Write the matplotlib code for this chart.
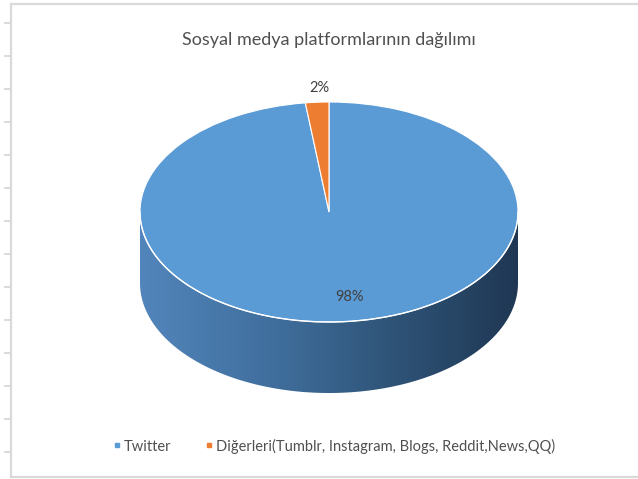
import numpy as np
import matplotlib
matplotlib.use("Agg")
import matplotlib.pyplot as plt
from matplotlib.colors import LinearSegmentedColormap
from matplotlib.patches import Polygon
from matplotlib.lines import Line2D

plt.rcParams['font.family'] = ['Lato', 'DejaVu Sans']

title = "Sosyal medya platformlarının dağılımı"
labels = ["Twitter", "Diğerleri(Tumblr, Instagram, Blogs, Reddit,News,QQ)"]
values = [98, 2]
colors = ["#5b9bd5", "#ed7d31"]

W, H = 638, 479
fig = plt.figure(figsize=(W / 100, H / 100), dpi=100)

# background "spreadsheet" frame in pixel coords
bg = fig.add_axes([0, 0, 1, 1])
bg.set_xlim(0, W)
bg.set_ylim(H, 0)
bg.axis("off")
grid_col = "#dadada"
bg.plot([11, 11], [4, 477], color=grid_col, lw=1.6)
bg.plot([11, W], [4, 4], color=grid_col, lw=1.6)
bg.plot([11, W], [477, 477], color=grid_col, lw=1.6)
for yy in range(23, 470, 33):
    bg.plot([5, 11], [yy, yy], color=grid_col, lw=1.4)

# pie axes: ellipse centre (329, 212) px, rx 189, ry 110
cx, cy, rx, ry = 329, 212, 189, 110
depth = 71 / ry
ax = fig.add_axes([0, 0, 1, 1])
wedges, _ = ax.pie(values, colors=colors, startangle=90, counterclock=False,
                   wedgeprops=dict(edgecolor="white", linewidth=0.8))
for w in wedges:
    w.set_zorder(3)
ax.set_aspect("auto")
ax.set_xlim((0 - cx) / rx, (W - cx) / rx)
ax.set_ylim((cy - H) / ry, cy / ry)
ax.axis("off")

# side wall of the 3D pie (front half only)
t = np.linspace(np.pi, 2 * np.pi, 200)
top = np.column_stack([np.cos(t), np.sin(t)])
bot = np.column_stack([np.cos(t[::-1]), np.sin(t[::-1]) - depth])
wall = Polygon(np.vstack([top, bot]), closed=True, facecolor="none",
               edgecolor="none", transform=ax.transData)
ax.add_patch(wall)
cmap = LinearSegmentedColormap.from_list(
    "side", ["#5285bb", "#41709f", "#2f5478", "#1f3753"])
grad = np.linspace(0, 1, 256).reshape(1, -1)
im = ax.imshow(grad, cmap=cmap, aspect="auto",
               extent=(-1, 1, -1 - depth, 0), zorder=1)
im.set_clip_path(wall)
ax.plot(np.cos(t), np.sin(t), color="white", lw=1.0, zorder=4)

# data labels
ax.text((349 - cx) / rx, (cy - 297) / ry, f"{values[0]}%", ha="center",
        va="center", fontsize=10.5, color="#404040", zorder=5)
ax.text((319 - cx) / rx, (cy - 88) / ry, f"{values[1]}%", ha="center",
        va="center", fontsize=10.5, color="#404040", zorder=5)

fig.text(cx / W, 1 - 40 / H, title, ha="center", va="center",
         fontsize=13, color="#505050")

handles = [Line2D([], [], marker="s", linestyle="none", markersize=3.5,
                  color=c) for c in colors]
fig.legend(handles, labels, loc="center", ncol=2, frameon=False,
           bbox_to_anchor=(334 / W, 1 - 446 / H), fontsize=10.5,
           labelcolor="#505050", handletextpad=0.23, columnspacing=2.3,
           handlelength=0.5)

fig.savefig("out.png", dpi=100, facecolor="white")
